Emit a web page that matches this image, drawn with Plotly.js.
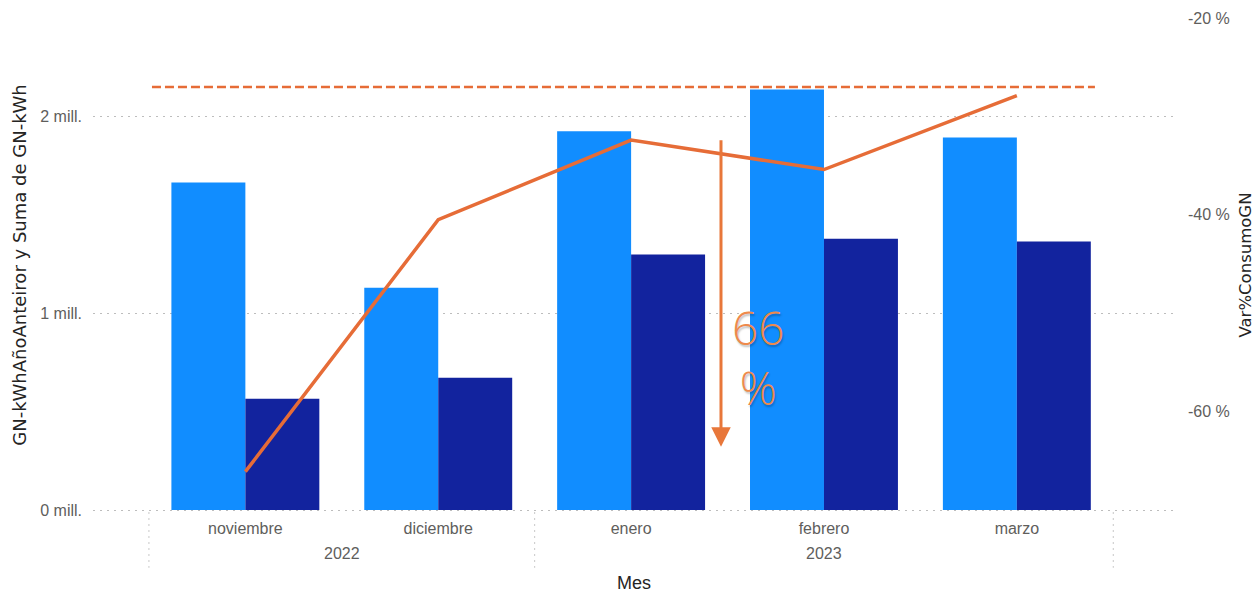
<!DOCTYPE html>
<html>
<head>
<meta charset="utf-8">
<script src="https://cdn.plot.ly/plotly-3.0.1.min.js"></script>
<style>html,body{margin:0;padding:0;background:#fff;}#chart{width:1258px;height:593px;}</style>
</head>
<body>
<div id="chart"></div>
<script>
// Data
const meses = ['noviembre', 'diciembre', 'enero', 'febrero', 'marzo'];
const anios = ['2022', '2022', '2023', '2023', '2023'];
const gnAnioAnterior = [1664000, 1130000, 1924000, 2137000, 1893000];
const gnActual = [565000, 672000, 1298000, 1379000, 1364000];
const varConsumo = [-66.1, -40.5, -32.4, -35.4, -27.9];
const lineaReferencia = 2150000;
const leftTickVals = [0, 1000000, 2000000];
const leftTickText = ['0 mill.', '1 mill.', '2 mill.'];
const rightTickVals = [-60, -40, -20];
const rightTickText = ['-60 %', '-40 %', '-20 %'];
const etiquetaVariacion = '66<br>%';

const tickFont = {family: 'Liberation Sans, Arial, sans-serif', size: 16, color: '#605E5C'};

const traces = [
  {type: 'bar', name: 'GN-kWhAñoAnteiror', x: meses, y: gnAnioAnterior, marker: {color: '#118DFF'}, yaxis: 'y'},
  {type: 'bar', name: 'Suma de GN-kWh', x: meses, y: gnActual, marker: {color: '#12239E'}, yaxis: 'y'},
  {type: 'scatter', mode: 'lines', name: 'Var%ConsumoGN', x: meses, y: varConsumo, yaxis: 'y2',
   line: {color: '#E66C37', width: 3.5}}
];

// Year groups (hierarchical axis level) derived from the anios array
const grupos = [];
anios.forEach((a, i) => {
  const g = grupos[grupos.length - 1];
  if (g && g.anio === a) { g.fin = i; } else { grupos.push({anio: a, ini: i, fin: i}); }
});
const yearAnnotations = grupos.map(g => ({
  xref: 'x', yref: 'paper', x: (g.ini + g.fin) / 2, y: -0.083, yanchor: 'middle',
  text: g.anio, showarrow: false, font: tickFont
}));
const divisores = [grupos[0].ini - 0.5].concat(grupos.map(g => g.fin + 0.5));
const dividerShapes = divisores.map(d => ({
  type: 'line', xref: 'x', yref: 'paper', x0: d, x1: d, y0: 0, y1: -0.113,
  line: {color: '#C8C8C8', width: 1, dash: '2px,4px'}
}));

const layout = {
  width: 1258, height: 593,
  margin: {l: 93, r: 83, t: 18, b: 81},
  paper_bgcolor: '#ffffff', plot_bgcolor: '#ffffff',
  showlegend: false,
  barmode: 'group', bargap: 0.233, bargroupgap: 0,
  xaxis: {
    type: 'category',
    range: [-0.79, 4.82],
    showgrid: false, zeroline: false, showline: false,
    tickfont: tickFont,
    ticklabelstandoff: 5,
    title: {text: 'Mes', font: {family: 'Liberation Sans, Arial, sans-serif', size: 18, color: '#252423'}, standoff: 41}
  },
  yaxis: {
    range: [-10000, 2500000],
    tickvals: leftTickVals, ticktext: leftTickText,
    showgrid: true, gridcolor: '#BDBDBD', griddash: '2px,5px', gridwidth: 1,
    zeroline: false, showline: false,
    tickfont: tickFont,
    ticklabelstandoff: 10,
    title: {text: 'GN-kWhAñoAnteiror y Suma de GN-kWh', font: {family: 'DejaVu Sans, sans-serif', size: 18, color: '#252423'}, standoff: 8}
  },
  yaxis2: {
    overlaying: 'y', side: 'right',
    range: [-70.2, -20],
    tickvals: rightTickVals, ticktext: rightTickText,
    showgrid: false, zeroline: false, showline: false,
    tickfont: tickFont,
    ticklabelstandoff: 12,
    title: {text: 'Var%ConsumoGN', font: {family: 'DejaVu Sans, sans-serif', size: 16.5, color: '#252423'}, standoff: 10}
  },
  shapes: [
    {type: 'line', xref: 'paper', yref: 'y', x0: 0.0545, x1: 0.926, y0: lineaReferencia, y1: lineaReferencia,
     line: {color: '#E66C37', width: 2.5, dash: '9px,4px'}}
  ].concat(dividerShapes),
  annotations: [
    {xref: 'paper', yref: 'paper', x: 0.5804, y: 0.132, text: '', showarrow: true,
     ax: 0, ay: -308, arrowcolor: '#E8773A', arrowwidth: 3, arrowhead: 2, arrowsize: 1.3, standoff: 0},
    {xref: 'paper', yref: 'paper', x: 0.6155, y: 0.187, text: etiquetaVariacion, showarrow: false,
     font: {family: 'Open Sans, sans-serif', size: 46, weight: 300, color: '#EE8A4C',
            shadow: '1px 2px 2px rgba(0,0,0,0.25)'}}
  ].concat(yearAnnotations)
};

Plotly.newPlot('chart', traces, layout, {displayModeBar: false, staticPlot: true});
</script>
</body>
</html>
